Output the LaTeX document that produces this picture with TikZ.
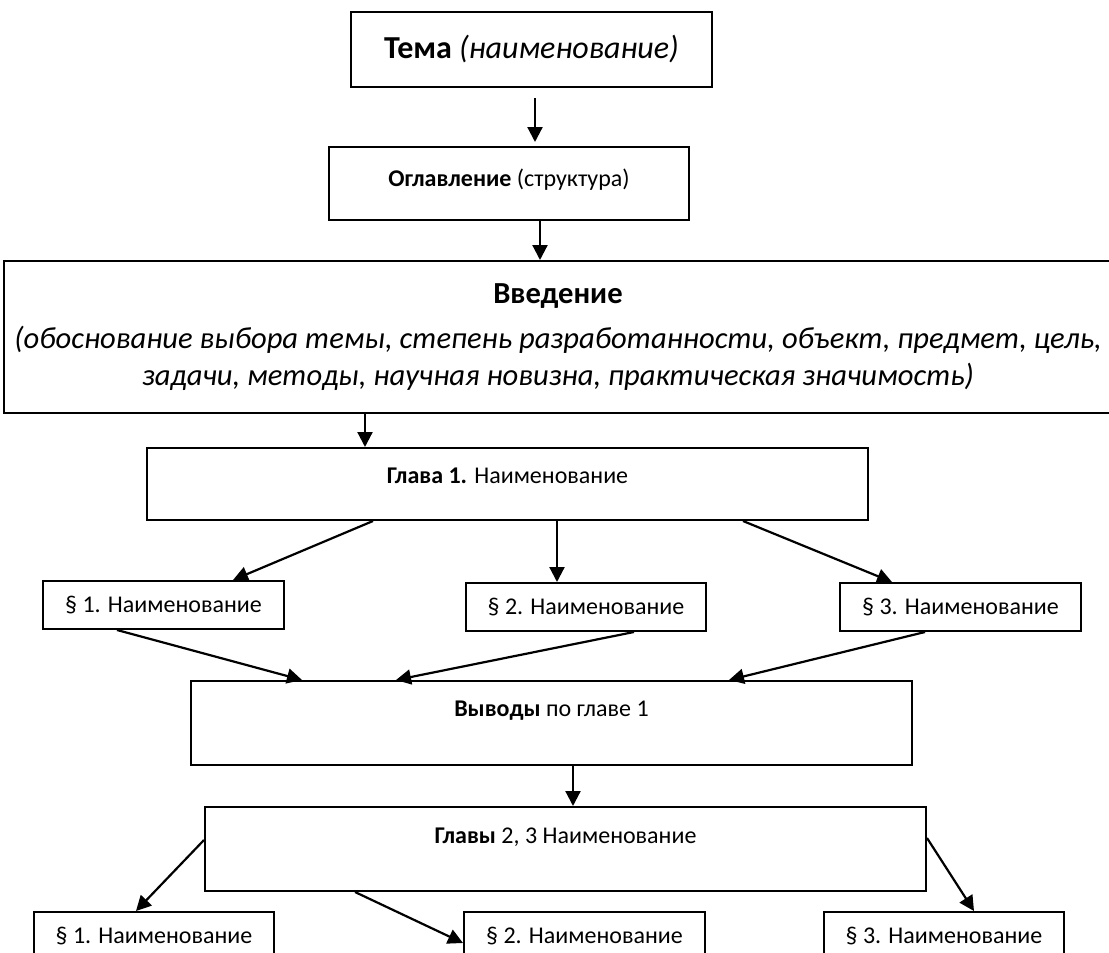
\documentclass[tikz,border=0pt]{standalone}
\usepackage{fontspec}
\setmainfont{Carlito}
\usetikzlibrary{arrows.meta}
\tikzset{
  box/.style={draw, line width=1pt, inner sep=0pt, font=\fontsize{12}{14}\selectfont},
  bigbox/.style={box, font=\fontsize{15.3}{18.5}\selectfont},
  arr/.style={-{Triangle[length=7.5pt,width=7.5pt]}, line width=1.1pt},
}

\begin{document}
\begin{tikzpicture}[x=0.5pt, y=-0.5pt]
    \useasboundingbox (0,0) rectangle (1109,953);
    \node[bigbox, minimum width=180.5pt, minimum height=37.5pt, font=\fontsize{16}{19}\selectfont] (tema) at (531.5, 49.5) {\textbf{Тема} \textit{(наименование)}};
    \node[box, minimum width=180pt, text height=19.5pt, text depth=17pt] (oglav) at (509, 183.5) {\textbf{Оглавление} (структура)};
    \node[bigbox, align=center, minimum width=554pt, minimum height=76pt] (vved) at (558, 337)
      {\textbf{Введение}\\[4pt]
       \textit{(обоснование выбора темы, степень разработанности, объект, предмет, цель,}\\
       \textit{задачи, методы, научная новизна, практическая значимость)}};
    \node[box, minimum width=360.5pt, text height=17.5pt, text depth=18.5pt] (glava1) at (507.5, 484) {\textbf{Глава 1.} Наименование};
    \node[box, minimum width=120.5pt, minimum height=24pt] (par1) at (163.5, 605) {§ 1. Наименование};
    \node[box, minimum width=120pt, minimum height=24pt] (par2) at (586, 607) {§ 2. Наименование};
    \node[box, minimum width=120.5pt, minimum height=24pt] (par3) at (960.5, 607) {§ 3. Наименование};
    \node[box, minimum width=360.5pt, text height=17.5pt, text depth=24.5pt] (vyvody) at (551.5, 723) {\textbf{Выводы} по главе 1};
    \node[box, minimum width=360.5pt, text height=18pt, text depth=24pt] (glavy) at (565.5, 849) {\textbf{Главы} 2, 3 Наименование};
    \node[box, minimum width=120pt, minimum height=24pt] (subpar1) at (154, 936) {§ 1. Наименование};
    \node[box, minimum width=120.5pt, minimum height=24pt] (subpar2) at (584.5, 936) {§ 2. Наименование};
    \node[box, minimum width=120pt, minimum height=24pt] (subpar3) at (944, 936) {§ 3. Наименование};
    \begin{scope}[arr]
      \draw ([shift={(3.5,10)}]tema.south) -- ([shift={(3.5,-4)}]tema.south |- oglav.north);
      \draw ([xshift=15.5pt]oglav.south) -- ([xshift=15.5pt]oglav.south |- vved.north);
      \draw ([xshift=-71.25pt]glava1.north |- vved.south) -- ([xshift=-71.25pt]glava1.north);
      \draw ([xshift=-67.25pt]glava1.south) -- ([xshift=34.75pt]par1.north);
      \draw ([xshift=24.75pt]glava1.south) -- ([xshift=24.75pt]glava1.south |- par2.north);
      \draw ([xshift=117.75pt]glava1.south) -- ([xshift=-34.25pt]par3.north);
      \draw ([xshift=-23.25pt]par1.south) -- ([xshift=-124.75pt]vyvody.north);
      \draw ([xshift=24pt]par2.south) -- ([xshift=-77.75pt]vyvody.north);
      \draw ([xshift=-17.75pt]par3.south) -- ([xshift=88.75pt]vyvody.north);
      \draw ([xshift=10.75pt]vyvody.south) -- ([xshift=10.75pt]vyvody.south |- glavy.north);
      \draw ([yshift=4.5pt]glavy.west) -- ([xshift=-9pt]subpar1.north);
      \draw ([xshift=-105.25pt]glavy.south) -- ([yshift=-3.5pt]subpar2.west);
      \draw ([yshift=5.5pt]glavy.east) -- ([xshift=15pt]subpar3.north);
    \end{scope}
  \end{tikzpicture}
\end{document}
